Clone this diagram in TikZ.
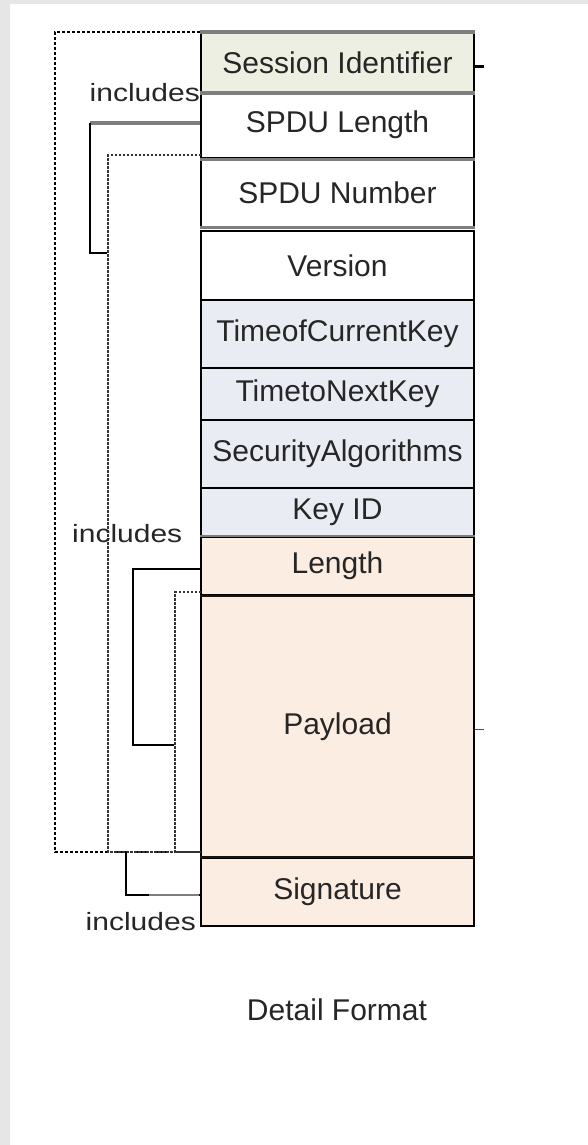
\documentclass[tikz,border=0pt]{standalone}
\usepackage{fontspec}
\setmainfont{Liberation Sans}
\newfontfamily\incfont[FakeStretch=1.2]{Liberation Sans}
\definecolor{sessfill}{HTML}{EEEFE3}
\definecolor{bluefill}{HTML}{E9EDF3}
\definecolor{peachfill}{HTML}{FCEDE3}
\definecolor{rulegray}{HTML}{7E7E7E}
\definecolor{txt}{HTML}{262626}
\definecolor{bggray}{HTML}{E6E6E6}
\tikzset{
  field/.style={draw=black, line width=2.2pt, minimum width=273pt, inner sep=0pt,
    text=txt, font=\fontsize{30}{34}\selectfont},
  grayrule/.style={draw=rulegray, line width=3.5pt},
  blk/.style={draw=black, line width=2.2pt},
  outerdash/.style={draw=black, line width=2pt, dash pattern=on 3pt off 2pt},
  innerdot/.style={draw=black!80, line width=1.6pt, dash pattern=on 2.5pt off 1.5pt},
  inclabel/.style={inner sep=0pt, text=txt, font=\incfont\fontsize{25}{30}\selectfont},
  titlelabel/.style={inner sep=0pt, text=txt, font=\fontsize{30}{34}\selectfont}
}
\begin{document}
\begin{tikzpicture}[x=1pt,y=-1pt]
\useasboundingbox (0,0) rectangle (588,1145);
\fill[bggray] (0,0) rectangle (588,1145);
\fill[white] (10,4) rectangle (588,1145);

% column fields
\node[field, fill=sessfill, minimum height=59pt] (sid) at (337.5,62.5) {Session Identifier};
\node[field, fill=white, minimum height=66pt] (splen) at (337.5,125) {SPDU Length};
\node[field, fill=white, minimum height=70pt] (spnum) at (337.5,193) {SPDU Number};
\node[field, fill=white, minimum height=69pt] (ver) at (337.5,265.5) {Version};
\node[field, fill=bluefill, minimum height=68pt] (tck) at (337.5,334) {TimeofCurrentKey};
\node[field, fill=bluefill, minimum height=52pt] (tnk) at (337.5,394) {TimetoNextKey};
\node[field, fill=bluefill, minimum height=68pt] (sec) at (337.5,454) {SecurityAlgorithms};
\node[field, fill=bluefill, minimum height=49pt] (kid) at (337.5,512.5) {Key ID};
\node[field, fill=peachfill, minimum height=58pt] (len) at (337.5,566) {Length};
\node[field, fill=peachfill, minimum height=263pt] (pay) at (337.5,726.5) {Payload};
\node[field, fill=peachfill, minimum height=68pt] (sig) at (337.5,892) {Signature};

% gray separator rules
\draw[grayrule] (sid.north west) -- (sid.north east);
\draw[grayrule] (sid.south west) -- (sid.south east);
\draw[grayrule, line width=3pt] (splen.south west) -- (splen.south east);
\draw[grayrule, line width=3pt] ([yshift=1.5pt]spnum.south west) -- ([yshift=1.5pt]spnum.south east);
\draw[grayrule, line width=2.5pt] ([yshift=2pt]kid.south west) -- ([yshift=2pt]kid.south east);
\draw[draw=black!85!brown, line width=2pt] (len.south west) -- (len.south east);
\draw[draw=black!85!brown, line width=2pt] (sig.north west) -- (sig.north east);

% right ticks
\draw[blk] ([yshift=-4pt]sid.east) -- ++(9,0);
\draw[draw=black!70, line width=1.5pt] ([yshift=-3pt]pay.east) -- ++(9,0);

% named coordinates
\coordinate (dotb) at (201,852);
\coordinate (d1) at (201,155);
\coordinate (d2) at (201,592);

% outer dashed bracket
\draw[outerdash] (sid.north west) -- ++(-145,0) |- (dotb);
% inner dotted brackets
\draw[innerdot] (d1) -- ++(-93,0) |- (dotb);
\draw[innerdot] (d2) -- ++(-26,0) |- (dotb);

% solid brackets
\draw[grayrule] ([yshift=2pt]splen.west) -- ++(-110,0) coordinate (b1);
\draw[blk] (b1) -- ++(0,130) -- ++(17,0);
\draw[blk] ([yshift=-3pt]len.west) -- ++(-67,0) -- ++(0,176) -- ++(41,0);
\draw[blk] ([yshift=-3pt]sig.west) -- ++(-74,0) -- ++(0,-43);
\draw[draw=rulegray, line width=2.5pt] ([xshift=-1pt,yshift=-3pt]sig.west) -- ++(-50,0);

% labels
\node[inclabel, anchor=base east] (l1) at (200,102) {includes};
\node[inclabel, anchor=base west] (l2) at (72,542) {includes};
\node[inclabel, anchor=base east] (l3) at (196,930) {includes};
\node[titlelabel, anchor=base] (title) at (337,1020) {Detail Format};
\end{tikzpicture}
\end{document}
